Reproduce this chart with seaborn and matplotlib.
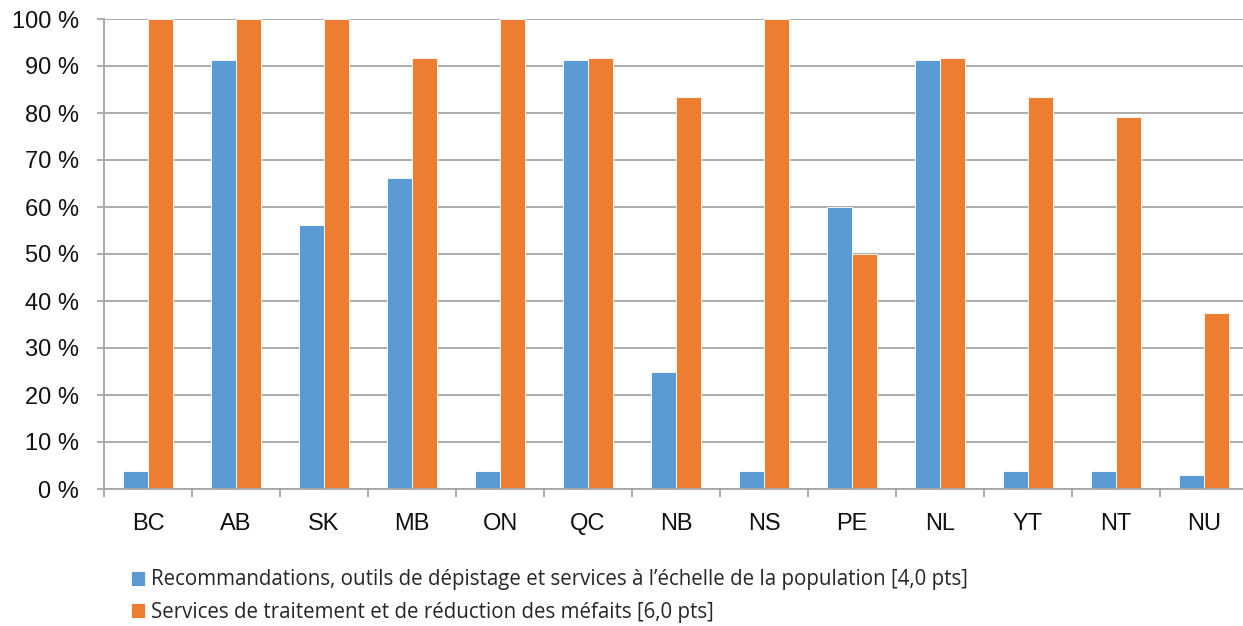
import matplotlib
matplotlib.use('Agg')
import matplotlib.pyplot as plt
import seaborn as sns
import pandas as pd
import numpy as np

# Data
provinces = ['BC', 'AB', 'SK', 'MB', 'ON', 'QC', 'NB', 'NS', 'PE', 'NL', 'YT', 'NT', 'NU']
depistage = [3.75, 91.25, 56.25, 66.25, 3.75, 91.25, 25.0, 3.75, 60.0, 91.25, 3.75, 3.75, 3.0]
traitement = [100, 100, 100, 91.67, 100, 91.67, 83.33, 100, 50.0, 91.67, 83.33, 79.17, 37.5]
series_names = ['Recommandations, outils de dépistage et services à l\u2019échelle de la population [4,0 pts]',
                'Services de traitement et de réduction des méfaits [6,0 pts]']
yticks = [0, 10, 20, 30, 40, 50, 60, 70, 80, 90, 100]
ytick_labels = ['0 %', '10 %', '20 %', '30 %', '40 %', '50 %', '60 %', '70 %', '80 %', '90 %', '100 %']

df = pd.DataFrame({
    'Province': provinces * 2,
    'Valeur': depistage + traitement,
    'Serie': [series_names[0]] * len(provinces) + [series_names[1]] * len(provinces),
})

sns.set_style('white')
plt.rcParams['font.family'] = ['Liberation Sans', 'DejaVu Sans']

fig = plt.figure(figsize=(12.43, 6.26), dpi=100)
ax = fig.add_axes([104 / 1243, 137 / 626, 1144 / 1243, 470 / 626])

# Grouped bars
sns.barplot(data=df, x='Province', y='Valeur', hue='Serie', order=provinces,
            hue_order=series_names, palette=['#5B9BD5', '#ED7D31'], saturation=1,
            width=0.57, edgecolor='white', linewidth=0.6, ax=ax, legend=True)

ax.set_ylim(0, 100)
ax.set_xlim(-0.5, len(provinces) - 0.5)
ax.set_yticks(yticks)
ax.set_yticklabels(ytick_labels)
ax.set_xlabel('')
ax.set_ylabel('')

# Gridlines and spines
grid_col = '#A6A6A6'
ax.yaxis.grid(True, color=grid_col, linewidth=1.3)
ax.set_axisbelow(True)
for s in ['top', 'right']:
    ax.spines[s].set_visible(False)
for s in ['left', 'bottom']:
    ax.spines[s].set_color(grid_col)
    ax.spines[s].set_linewidth(1.3)

# x ticks sit between categories, labels at centers
ax.set_xticks(np.arange(-0.5, len(provinces), 1), minor=True)
ax.tick_params(axis='x', which='major', length=0, pad=17, labelsize=17, labelcolor='#111111')
ax.tick_params(axis='x', which='minor', length=6, width=1.3, color=grid_col, direction='out', bottom=True)
ax.tick_params(axis='y', which='major', length=5, width=1.3, color=grid_col, pad=13,
               labelsize=17, labelcolor='#111111', left=True)

# Legend below the plot
handles, labels = ax.get_legend_handles_labels()
ax.get_legend().remove()
fig.legend(handles, labels, loc='upper left', bbox_to_anchor=(112 / 1243, 1 - 551 / 626),
           frameon=False, prop={'family': ['Open Sans', 'DejaVu Sans'], 'size': 14.8},
           handlelength=0.7, handleheight=0.7, handletextpad=0.3, labelspacing=0.55)

fig.savefig('out.png', dpi=100)
